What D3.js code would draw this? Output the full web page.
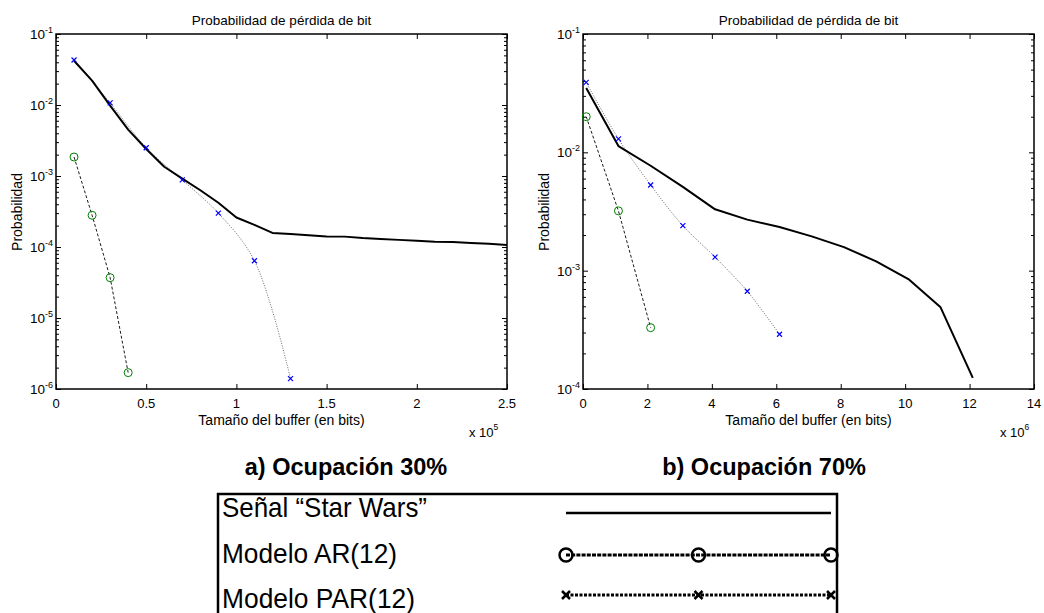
<!DOCTYPE html>
<html>
<head>
<meta charset="utf-8">
<script src="https://cdn.jsdelivr.net/npm/d3@7"></script>
<style>
  body { margin: 0; background: #fff; }
  svg { display: block; font-family: "Liberation Sans", Arial, Helvetica, sans-serif; }
</style>
</head>
<body>
<script>
// --- data (buffer size in bits, probability) ---

// a) 30% occupancy
var swBufA = [10000, 20000, 30000, 40000, 50000, 60000, 70000, 80000, 90000, 100000,
              110000, 120000, 130000, 140000, 150000, 160000, 170000, 180000, 190000, 200000,
              210000, 220000, 230000, 240000, 250000];
var swProbA = [0.042, 0.022, 0.0098, 0.0045, 0.0024, 0.00135, 0.00092, 0.00063, 0.00042, 0.00026,
               0.000205, 0.000158, 0.000152, 0.000146, 0.000141, 0.00014, 0.000134, 0.00013, 0.000126, 0.000122,
               0.000119, 0.000118, 0.000114, 0.000111, 0.000107];
var arBufA = [10000, 20000, 30000, 40000];
var arProbA = [0.00185, 0.00028, 0.000037, 0.0000017];
var parBufA = [10000, 30000, 50000, 70000, 90000, 110000, 130000];
var parProbA = [0.043, 0.0107, 0.0025, 0.00088, 0.0003, 0.000064, 0.0000014];

// b) 70% occupancy
var swBufB = [100000, 1100000, 2100000, 3100000, 4100000, 5100000, 6100000,
              7100000, 8100000, 9100000, 10100000, 11100000, 12100000];
var swProbB = [0.035, 0.0113, 0.0077, 0.0051, 0.0033, 0.0027, 0.00234,
               0.00195, 0.00158, 0.0012, 0.00085, 0.00049, 0.000124];
var arBufB = [100000, 1100000, 2100000];
var arProbB = [0.02, 0.0032, 0.00033];
var parBufB = [100000, 1100000, 2100000, 3100000, 4100000, 5100000, 6100000];
var parProbB = [0.039, 0.013, 0.0053, 0.0024, 0.0013, 0.00067, 0.00029];

var xTicksA = [0, 0.5, 1, 1.5, 2, 2.5];
var xTicksB = [0, 2, 4, 6, 8, 10, 12, 14];

var plotTitle = "Probabilidad de pérdida de bit";
var xTitle = "Tamaño del buffer (en bits)";
var yTitle = "Probabilidad";
var captions = ["a) Ocupación 30%", "b) Ocupación 70%"];
var legendLabels = ["Señal “Star Wars”", "Modelo AR(12)", "Modelo PAR(12)"];

var W = 1044, H = 613;
var svg = d3.select("body").append("svg")
    .attr("width", W)
    .attr("height", H);

function zip(xs, ys) {
  return xs.map(function(x, i) { return {x: x, y: ys[i]}; });
}

function drawPanel(p) {
  var x = d3.scaleLinear().domain([0, p.xmax]).range([p.left, p.right]);
  var y = d3.scaleLog().domain([p.ymin, 0.1]).range([389, 34]);
  var g = svg.append("g");

  var decades = [];
  for (var e = Math.round(Math.log10(p.ymin)); e <= -1; e++) decades.push(Math.pow(10, e));
  var minors = [];
  decades.slice(0, -1).forEach(function(d) {
    for (var k = 2; k <= 9; k++) minors.push(d * k);
  });

  var xt = p.ticks.map(function(t) { return t * p.unit; });

  // ticks (inward, on all four sides)
  g.append("g").attr("transform", "translate(0,389)")
    .call(d3.axisBottom(x).tickValues(xt).tickSize(-5).tickFormat(""));
  g.append("g").attr("transform", "translate(0,34)")
    .call(d3.axisTop(x).tickValues(xt).tickSize(-5).tickFormat(""));
  g.append("g").attr("transform", "translate(" + p.left + ",0)")
    .call(d3.axisLeft(y).tickValues(decades).tickSize(-5).tickFormat(""));
  g.append("g").attr("transform", "translate(" + p.left + ",0)")
    .call(d3.axisLeft(y).tickValues(minors).tickSize(-3).tickFormat(""));
  g.append("g").attr("transform", "translate(" + p.right + ",0)")
    .call(d3.axisRight(y).tickValues(decades).tickSize(-5).tickFormat(""));
  g.append("g").attr("transform", "translate(" + p.right + ",0)")
    .call(d3.axisRight(y).tickValues(minors).tickSize(-3).tickFormat(""));
  g.selectAll(".domain").remove();
  g.selectAll(".tick line").attr("stroke", "#000").attr("stroke-width", 1);

  // box
  g.append("rect")
    .attr("x", p.left).attr("y", 34)
    .attr("width", p.right - p.left).attr("height", 389 - 34)
    .attr("fill", "none").attr("stroke", "#000").attr("stroke-width", 1.5);

  // x tick labels
  g.selectAll(".xl").data(p.ticks).enter().append("text")
    .attr("x", function(d) { return x(d * p.unit); })
    .attr("y", 408)
    .attr("text-anchor", "middle")
    .attr("font-size", 13)
    .text(function(d) { return d; });

  // y tick labels 10^n
  var yl = g.selectAll(".yl").data(decades).enter().append("text")
    .attr("x", p.left - 3)
    .attr("y", function(d) { return y(d) + 5; })
    .attr("text-anchor", "end")
    .attr("font-size", 13.5);
  yl.append("tspan").text("10");
  yl.append("tspan").attr("dy", -6).attr("font-size", 9)
    .text(function(d) { return Math.round(Math.log10(d)); });

  // titles
  var cx = (p.left + p.right) / 2;
  g.append("text").attr("x", cx).attr("y", 25).attr("text-anchor", "middle")
    .attr("font-size", 13.5).text(plotTitle);
  g.append("text").attr("x", cx).attr("y", 425).attr("text-anchor", "middle")
    .attr("font-size", 14).text(xTitle);
  g.append("text")
    .attr("transform", "translate(" + (p.left - 34) + "," + 212 + ") rotate(-90)")
    .attr("text-anchor", "middle").attr("font-size", 14).text(yTitle);
  var ex = g.append("text").attr("x", p.expX).attr("y", 437).attr("font-size", 13);
  ex.append("tspan").text("x 10");
  ex.append("tspan").attr("dy", -7).attr("font-size", 8.5).text(p.exp);

  var line = d3.line().x(function(d) { return x(d.x); }).y(function(d) { return y(d.y); });
  var curve = d3.line().x(function(d) { return x(d.x); }).y(function(d) { return y(d.y); })
    .curve(d3.curveCatmullRom.alpha(0.5));

  // PAR(12): dotted line + blue crosses
  var par = zip(p.parX, p.parY);
  g.append("path").datum(par).attr("d", curve)
    .attr("fill", "none").attr("stroke", "#444").attr("stroke-width", 0.8)
    .attr("stroke-dasharray", "1,1.5");
  // AR(12): dashed line + green circles
  var ar = zip(p.arX, p.arY);
  g.append("path").datum(ar).attr("d", line)
    .attr("fill", "none").attr("stroke", "#000").attr("stroke-width", 0.9)
    .attr("stroke-dasharray", "3,2");
  // Star Wars trace
  g.append("path").datum(zip(p.swX, p.swY)).attr("d", line)
    .attr("fill", "none").attr("stroke", "#000").attr("stroke-width", 2)
    .attr("stroke-linejoin", "round");

  g.selectAll(".arm").data(ar).enter().append("circle")
    .attr("cx", function(d) { return x(d.x); })
    .attr("cy", function(d) { return y(d.y); })
    .attr("r", 4).attr("fill", "none").attr("stroke", "#008000").attr("stroke-width", 1);
  g.selectAll(".parm").data(par).enter().append("path")
    .attr("transform", function(d) { return "translate(" + x(d.x) + "," + y(d.y) + ")"; })
    .attr("d", "M-2.5,-2.5L2.5,2.5M-2.5,2.5L2.5,-2.5")
    .attr("stroke", "#0000ff").attr("stroke-width", 1.2);
}

drawPanel({left: 56, right: 507, xmax: 250000, unit: 1e5, ticks: xTicksA, ymin: 1e-6,
           exp: "5", expX: 469,
           swX: swBufA, swY: swProbA, arX: arBufA, arY: arProbA, parX: parBufA, parY: parProbA});
drawPanel({left: 583, right: 1034, xmax: 14000000, unit: 1e6, ticks: xTicksB, ymin: 1e-4,
           exp: "6", expX: 1000,
           swX: swBufB, swY: swProbB, arX: arBufB, arY: arProbB, parX: parBufB, parY: parProbB});

// captions
svg.selectAll(".cap").data(captions).enter().append("text")
  .attr("x", function(d, i) { return i === 0 ? 346 : 764; })
  .attr("y", 475)
  .attr("text-anchor", "middle")
  .attr("font-size", 23.5).attr("font-weight", "bold")
  .text(function(d) { return d; });

// legend box
var lg = svg.append("g");
lg.append("rect").attr("x", 218).attr("y", 494).attr("width", 619).attr("height", 140)
  .attr("fill", "none").attr("stroke", "#000").attr("stroke-width", 2.5);
var labelW = [205, 175, 193];
var rowY = [517, 563, 608];
var lineY = [513, 555, 595];
lg.selectAll(".lt").data(legendLabels).enter().append("text")
  .attr("x", 222).attr("y", function(d, i) { return rowY[i]; })
  .attr("font-size", 28)
  .attr("textLength", function(d, i) { return labelW[i]; })
  .attr("lengthAdjust", "spacingAndGlyphs")
  .text(function(d) { return d; });

var sx = d3.scaleLinear().domain([0, 2]).range([566, 831]);
var samples = [0, 1, 2];
lg.append("path").datum(samples)
  .attr("d", d3.line().x(function(d) { return sx(d); }).y(lineY[0]))
  .attr("stroke", "#000").attr("stroke-width", 2.5);
lg.append("path").datum(samples)
  .attr("d", d3.line().x(function(d) { return sx(d); }).y(lineY[1]))
  .attr("stroke", "#000").attr("stroke-width", 3).attr("stroke-dasharray", "4,1.2");
lg.selectAll(".lc").data(samples).enter().append("circle")
  .attr("cx", function(d) { return sx(d); }).attr("cy", lineY[1]).attr("r", 6.5)
  .attr("fill", "none").attr("stroke", "#000").attr("stroke-width", 2.5);
lg.append("path").datum(samples)
  .attr("d", d3.line().x(function(d) { return sx(d); }).y(lineY[2]))
  .attr("stroke", "#000").attr("stroke-width", 3).attr("stroke-dasharray", "3,1.5");
lg.selectAll(".lx").data(samples).enter().append("path")
  .attr("transform", function(d) { return "translate(" + sx(d) + "," + lineY[2] + ")"; })
  .attr("d", "M-4,-4L4,4M-4,4L4,-4")
  .attr("stroke", "#000").attr("stroke-width", 2.5);
</script>
</body>
</html>
